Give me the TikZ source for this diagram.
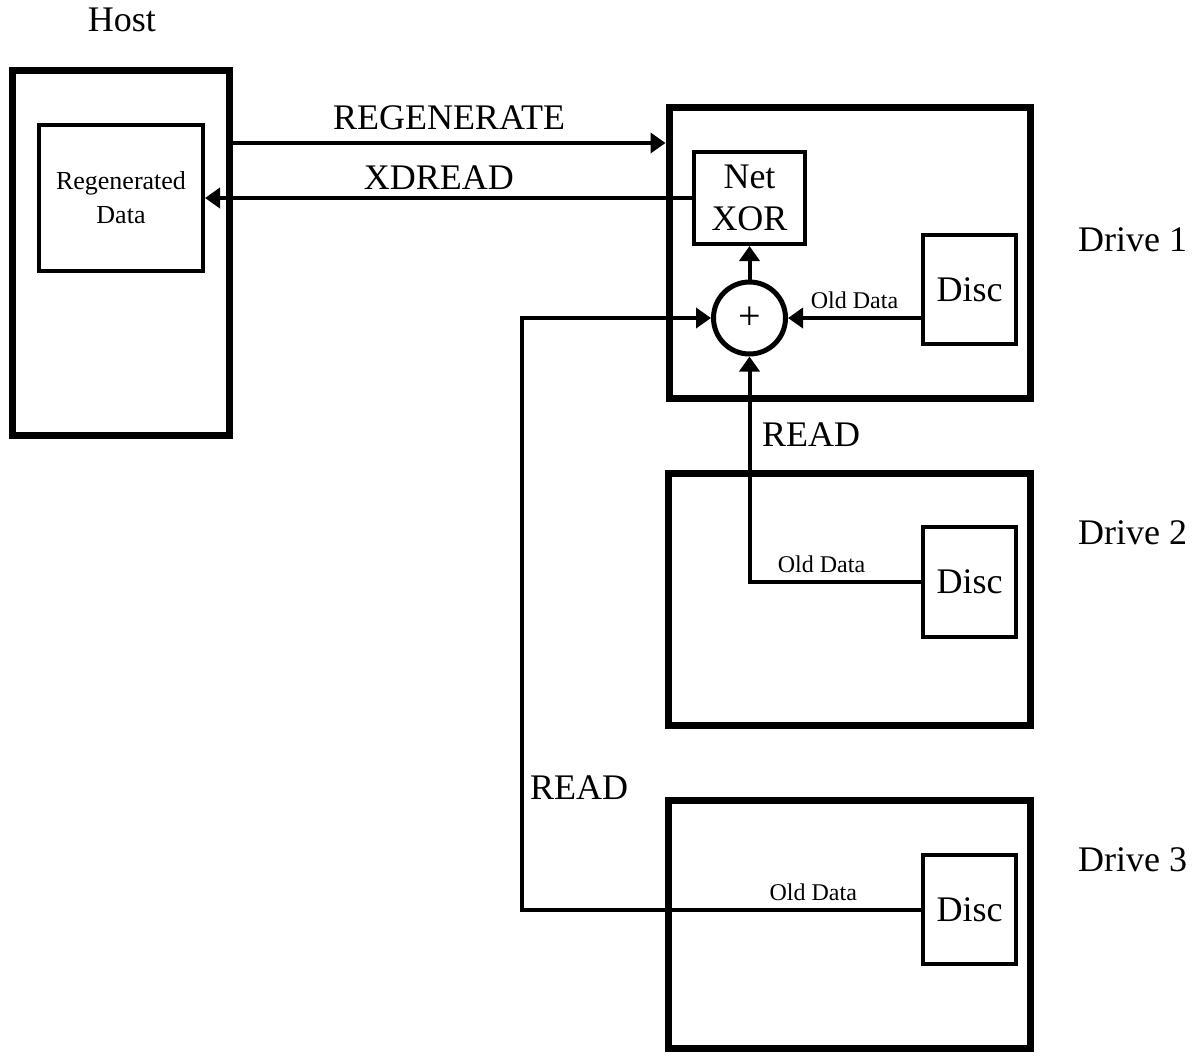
\documentclass[tikz,border=0pt]{standalone}
\usepackage{fontspec}
\setmainfont{Liberation Serif}
\usetikzlibrary{arrows.meta}
\begin{document}
\begin{tikzpicture}[x=1pt,y=-1pt,
  bigbox/.style={draw,line width=7pt,inner sep=0pt},
  smallbox/.style={draw,line width=4pt,inner sep=0pt},
  conn/.style={line width=4pt},
  arr/.style={conn,-{Triangle[length=15pt,width=20pt]}},
  big/.style={font=\fontsize{36}{42}\selectfont},
  mid/.style={font=\fontsize{26}{34}\selectfont},
  small/.style={font=\fontsize{24}{28}\selectfont},
  lbl/.style={small,anchor=south,inner sep=0pt,yshift=7pt}]
\useasboundingbox (0,0) rectangle (1196,1055);
% host
\node[bigbox,minimum width=217pt,minimum height=365pt] (host) at (120.5,252.5) {};
\node[smallbox,minimum width=164pt,minimum height=146pt,mid,align=center] (regen) at (121,198) {Regenerated\\Data};
\node[big] (hostlbl) at (122,20) {Host};
% drives
\node[bigbox,minimum width=361pt,minimum height=291pt] (drive1) at (849.5,252.5) {};
\node[bigbox,minimum width=362pt,minimum height=252pt] (drive2) at (849.5,599) {};
\node[bigbox,minimum width=362pt,minimum height=248pt] (drive3) at (849.5,924) {};
\node[big,anchor=west,inner sep=0pt] (d1lbl) at (1078,240) {Drive 1};
\node[big,anchor=west,inner sep=0pt] (d2lbl) at (1078,533) {Drive 2};
\node[big,anchor=west,inner sep=0pt] (d3lbl) at (1078,860) {Drive 3};
% inside drive 1
\node[smallbox,minimum width=111pt,minimum height=92pt,big,align=center] (netxor) at (749.5,198) {Net\\XOR};
\node[circle,draw,line width=5pt,minimum size=72pt,inner sep=0pt,font=\fontsize{40}{40}\selectfont] (sum) at (749.5,318) {+};
\node[smallbox,minimum width=93pt,minimum height=109pt,big] (disc1) at (969.5,289.5) {Disc};
\node[smallbox,minimum width=93pt,minimum height=110pt,big] (disc2) at (969.5,582) {Disc};
\node[smallbox,minimum width=93pt,minimum height=109pt,big] (disc3) at (969.5,909.5) {Disc};
\coordinate (c3) at (522,909.5);
% connectors
\draw[arr] (host.east |- 0,143) -- node[big,anchor=south,inner sep=0pt,yshift=11pt] (reglbl) {REGENERATE} (drive1.west |- 0,143);
\draw[arr] (netxor.west) -- node[big,anchor=south,inner sep=0pt,yshift=6pt,pos=0.52] (xdlbl) {XDREAD} (regen.east);
\draw[arr] (sum.north) -- (netxor.south);
\draw[arr] (disc1.west |- sum.east) -- node[lbl] (od1) {Old Data} (sum.east);
\draw[arr] (disc2.west) -| node[lbl,pos=0.29] (od2) {Old Data} (sum.south);
\draw[arr] (disc3.west) -- node[lbl,pos=0.27] (od3) {Old Data} (c3) |- (sum.west);
\node[big,anchor=west,inner sep=0pt] (read1) at (762,435) {READ};
\node[big,anchor=west,inner sep=0pt] (read2) at (530,788) {READ};
\end{tikzpicture}
\end{document}
